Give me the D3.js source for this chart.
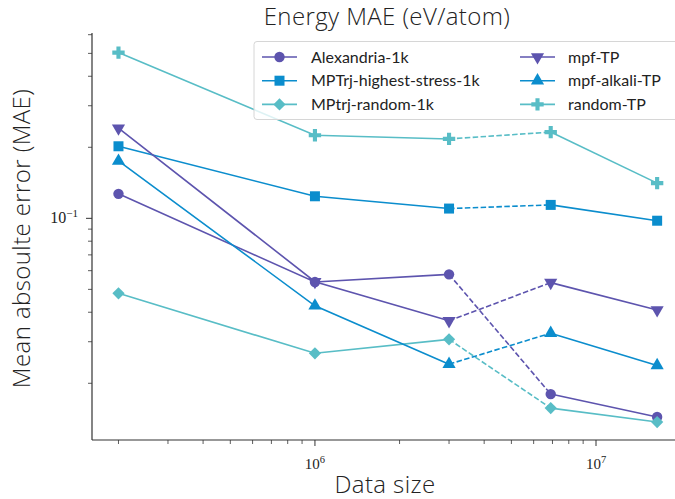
<!DOCTYPE html>
<html>
<head>
<meta charset="utf-8">
<script src="https://cdn.jsdelivr.net/npm/d3@7"></script>
<style>
  body { margin: 0; background: white; }
  text { font-family: Lato, "Open Sans", sans-serif; fill: #222; }
  .big { font-family: "Open Sans", Lato, sans-serif; font-weight: 300; font-size: 24px; letter-spacing: 0.4px; }
  .tick-label { font-family: "Liberation Serif", "DejaVu Serif", serif; }
</style>
</head>
<body>
<div id="viz"></div>
<script>
// data
const dataSizes = [2e5, 1e6, 3e6, 6.9e6, 1.65e7];
const seriesNames = ["Alexandria-1k", "MPTrj-highest-stress-1k", "MPtrj-random-1k", "mpf-TP", "mpf-alkali-TP", "random-TP"];
const alexandria = [0.127, 0.0537, 0.0579, 0.0180, 0.0144];
const mptrjStress = [0.202, 0.124, 0.110, 0.114, 0.0977];
const mptrjRandom = [0.0481, 0.0268, 0.0307, 0.0157, 0.0137];
const mpfTP = [0.241, 0.0539, 0.0368, 0.0534, 0.0409];
const mpfAlkali = [0.175, 0.0426, 0.0241, 0.0326, 0.0238];
const randomTP = [0.504, 0.225, 0.217, 0.232, 0.141];
const yMajorTicks = [0.1];
const xMajorTicks = [1e6, 1e7];

const purple = "#5d54ae", blue = "#0b8dcd", cyan = "#58bdc6";

const series = [
  {name: seriesNames[0], values: alexandria, color: purple, symbol: d3.symbolCircle, size: 85, rot: 0},
  {name: seriesNames[1], values: mptrjStress, color: blue, symbol: d3.symbolSquare, size: 100, rot: 0},
  {name: seriesNames[2], values: mptrjRandom, color: cyan, symbol: d3.symbolSquare, size: 75, rot: 45},
  {name: seriesNames[3], values: mpfTP, color: purple, symbol: d3.symbolTriangle, size: 75, rot: 180},
  {name: seriesNames[4], values: mpfAlkali, color: blue, symbol: d3.symbolTriangle, size: 75, rot: 0},
  {name: seriesNames[5], values: randomTP, color: cyan, symbol: d3.symbolCross, size: 85, rot: 0}
];

const width = 675, height = 499;
const plotLeft = 92, plotRight = 675, plotTop = 33, plotBottom = 440;

const svg = d3.select("#viz").append("svg")
  .attr("width", width)
  .attr("height", height);

const x = d3.scaleLog().domain([1.61e5, 1.91e7]).range([plotLeft, plotRight]);
const y = d3.scaleLog().domain([0.0115, 0.61]).range([plotBottom, plotTop]);

// x ticks
const xMinor = [];
for (let e = 5; e <= 7; e++) for (let m = 2; m <= 9; m++) {
  const v = m * Math.pow(10, e);
  if (v >= x.domain()[0] && v <= x.domain()[1]) xMinor.push(v);
}
svg.selectAll(".xminor").data(xMinor).enter().append("line")
  .attr("x1", d => x(d)).attr("x2", d => x(d))
  .attr("y1", plotBottom).attr("y2", plotBottom + 4)
  .attr("stroke", "#333").attr("stroke-width", 0.8);
svg.selectAll(".xmajor").data(xMajorTicks).enter().append("line")
  .attr("x1", d => x(d)).attr("x2", d => x(d))
  .attr("y1", plotBottom).attr("y2", plotBottom + 6)
  .attr("stroke", "#333").attr("stroke-width", 1);
const xl = svg.selectAll(".xlab").data(xMajorTicks).enter().append("text")
  .attr("class", "tick-label")
  .attr("x", d => x(d)).attr("y", plotBottom + 29)
  .attr("text-anchor", "middle").style("font-size", "15px");
xl.append("tspan").text("10");
xl.append("tspan").attr("dy", -6).style("font-size", "10.5px").text(d => Math.round(Math.log10(d)));

// y ticks
const yMinor = [];
for (let e = -2; e <= -1; e++) for (let m = 2; m <= 9; m++) {
  const v = m * Math.pow(10, e);
  if (v >= y.domain()[0] && v <= y.domain()[1]) yMinor.push(v);
}
svg.selectAll(".yminor").data(yMinor).enter().append("line")
  .attr("x1", plotLeft - 4).attr("x2", plotLeft)
  .attr("y1", d => y(d)).attr("y2", d => y(d))
  .attr("stroke", "#333").attr("stroke-width", 0.8);
svg.selectAll(".ymajor").data(yMajorTicks).enter().append("line")
  .attr("x1", plotLeft - 6).attr("x2", plotLeft)
  .attr("y1", d => y(d)).attr("y2", d => y(d))
  .attr("stroke", "#333").attr("stroke-width", 1);
const yl = svg.selectAll(".ylab").data(yMajorTicks).enter().append("text")
  .attr("class", "tick-label")
  .attr("x", plotLeft - 14).attr("y", d => y(d) + 5)
  .attr("text-anchor", "end").style("font-size", "16px");
yl.append("tspan").text("10");
yl.append("tspan").attr("dy", -6).style("font-size", "11px").text(d => "\u2212" + Math.abs(Math.round(Math.log10(d))));

// spines
svg.append("line").attr("x1", plotLeft).attr("x2", plotLeft).attr("y1", plotTop).attr("y2", plotBottom)
  .attr("stroke", "#333").attr("stroke-width", 1.2);
svg.append("line").attr("x1", plotLeft).attr("x2", plotRight).attr("y1", plotBottom).attr("y2", plotBottom)
  .attr("stroke", "#333").attr("stroke-width", 1.2);

// lines: solid except the 3rd->4th segment which is dashed
const line = d3.line().x(d => x(d[0])).y(d => y(d[1]));
series.forEach(s => {
  const pts = dataSizes.map((d, i) => [d, s.values[i]]);
  const g = svg.append("g");
  [[0, 3, null], [2, 4, "5.5,2.4"], [3, 5, null]].forEach(([a, b, dash]) => {
    g.append("path")
      .attr("d", line(pts.slice(a, b)))
      .attr("fill", "none")
      .attr("stroke", s.color)
      .attr("stroke-width", 1.6)
      .attr("stroke-dasharray", dash);
  });
  g.selectAll("path.m").data(pts).enter().append("path")
    .attr("class", "m")
    .attr("d", d3.symbol().type(s.symbol).size(s.size))
    .attr("transform", d => `translate(${x(d[0])},${y(d[1])}) rotate(${s.rot})`)
    .attr("fill", s.color);
});

// legend
const lg = svg.append("g");
lg.append("rect")
  .attr("x", 254).attr("y", 41.5).attr("width", 430).attr("height", 78)
  .attr("rx", 3)
  .attr("fill", "white").attr("fill-opacity", 0.8)
  .attr("stroke", "#d6d6d6").attr("stroke-width", 1);
series.forEach((s, i) => {
  const col = Math.floor(i / 3), row = i % 3;
  const x0 = col === 0 ? 262 : 520;
  const yy = 57 + row * 23.7;
  lg.append("line").attr("x1", x0).attr("x2", x0 + 35).attr("y1", yy).attr("y2", yy)
    .attr("stroke", s.color).attr("stroke-width", 1.6);
  lg.append("path")
    .attr("d", d3.symbol().type(s.symbol).size(s.size))
    .attr("transform", `translate(${x0 + 17.5},${yy}) rotate(${s.rot})`)
    .attr("fill", s.color);
  lg.append("text")
    .attr("x", x0 + (col === 0 ? 49 : 48)).attr("y", yy + 5.5)
    .style("font-size", "16px")
    .text(s.name);
});

// titles
svg.append("text").attr("class", "big").attr("x", 387).attr("y", 25).attr("text-anchor", "middle")
  .text("Energy MAE (eV/atom)");
svg.append("text").attr("class", "big").attr("x", 385).attr("y", 493).attr("text-anchor", "middle")
  .text("Data size");
svg.append("text").attr("class", "big")
  .attr("transform", `translate(30,${(plotTop + plotBottom) / 2 + 2}) rotate(-90)`)
  .attr("text-anchor", "middle")
  .text("Mean absoulte error (MAE)");
</script>
</body>
</html>
